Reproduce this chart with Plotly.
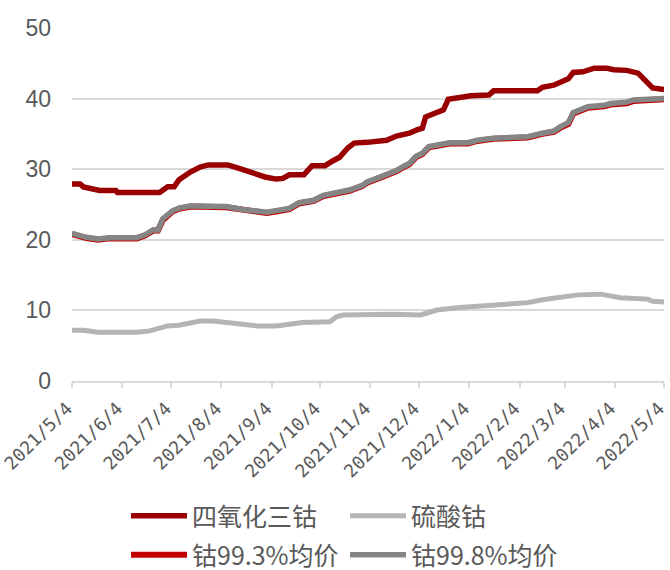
import plotly.graph_objects as go

# ---- data ----
co3o4_dates = ["2021-05-04","2021-05-09","2021-05-11","2021-05-17","2021-05-21","2021-05-31","2021-06-01",
               "2021-06-27","2021-07-02","2021-07-06","2021-07-09","2021-07-16","2021-07-22","2021-07-27",
               "2021-08-08","2021-08-14","2021-08-19","2021-08-25","2021-08-31","2021-09-07","2021-09-11",
               "2021-09-15","2021-09-24","2021-09-29","2021-10-07","2021-10-12","2021-10-16","2021-10-21",
               "2021-10-25","2021-11-02","2021-11-10","2021-11-14","2021-11-20","2021-11-28","2021-12-03",
               "2021-12-06","2021-12-08","2021-12-12","2021-12-16","2021-12-19","2021-12-22","2021-12-29",
               "2022-01-05","2022-01-16","2022-01-19","2022-02-15","2022-02-18","2022-02-25","2022-03-02",
               "2022-03-06","2022-03-09","2022-03-15","2022-03-22","2022-03-30","2022-04-03","2022-04-11",
               "2022-04-18","2022-04-21","2022-04-24","2022-04-27","2022-05-04"]
co3o4_vals = [27.9,27.9,27.5,27.2,27.0,27.0,26.7,
              26.7,27.5,27.5,28.5,29.6,30.3,30.6,
              30.6,30.2,29.8,29.2,28.9,28.6,28.7,
              29.2,29.2,30.5,30.5,31.2,31.7,33.0,
              33.7,33.8,34.0,34.1,34.7,35.1,35.6,
              35.8,37.4,37.7,38.2,38.4,39.9,40.2,
              40.4,40.5,41.1,41.1,41.6,41.9,42.5,
              42.8,43.7,43.8,44.3,44.3,44.1,44.0,
              43.6,42.9,42.3,41.5,41.3]

cobalt998_dates = ["2021-05-04","2021-05-09","2021-05-13","2021-05-20","2021-05-25","2021-05-27","2021-06-13",
                   "2021-06-18","2021-06-23","2021-06-26","2021-06-29","2021-07-02","2021-07-05","2021-07-09",
                   "2021-07-16","2021-08-07","2021-08-17","2021-09-01","2021-09-07","2021-09-15","2021-09-21",
                   "2021-09-30","2021-10-06","2021-10-14","2021-10-22","2021-10-30","2021-11-02","2021-11-10",
                   "2021-11-16","2021-11-20","2021-11-24","2021-11-28","2021-12-02","2021-12-06","2021-12-10",
                   "2021-12-17","2021-12-23","2022-01-03","2022-01-09","2022-01-19","2022-02-09","2022-02-18",
                   "2022-02-25","2022-03-01","2022-03-06","2022-03-09","2022-03-14","2022-03-18","2022-03-28",
                   "2022-04-01","2022-04-11","2022-04-15","2022-05-04"]
cobalt998_vals = [20.9,20.5,20.35,20.1,20.2,20.3,20.3,
                  20.7,21.4,21.4,23.0,23.5,24.1,24.5,
                  24.8,24.7,24.3,23.9,24.1,24.45,25.25,
                  25.6,26.3,26.7,27.05,27.7,28.2,28.9,
                  29.4,29.8,30.35,30.8,31.8,32.25,33.2,
                  33.6,33.75,33.75,34.1,34.4,34.6,35.1,
                  35.4,36.0,36.6,38.0,38.5,38.85,39.05,
                  39.3,39.5,39.8,40.0]
cobalt993_vals = [20.8,20.4,20.25,20.0,20.1,20.2,20.2,
                  20.6,21.3,21.3,22.8,23.4,24.0,24.4,
                  24.7,24.6,24.2,23.8,24.0,24.35,25.15,
                  25.5,26.2,26.6,26.95,27.6,28.1,28.8,
                  29.3,29.7,30.25,30.7,31.7,32.15,33.1,
                  33.5,33.65,33.65,34.0,34.3,34.5,35.0,
                  35.3,35.85,36.4,37.85,38.35,38.7,38.9,
                  39.15,39.35,39.65,39.9]

sulfate_dates = ["2021-05-04","2021-05-11","2021-05-20","2021-06-13","2021-06-21","2021-06-27","2021-07-02",
                 "2021-07-09","2021-07-16","2021-07-22","2021-07-30","2021-08-09","2021-08-17","2021-08-26",
                 "2021-09-07","2021-09-15","2021-09-23","2021-10-10","2021-10-14","2021-10-18","2021-11-10",
                 "2021-11-18","2021-12-05","2021-12-09","2021-12-15","2021-12-29","2022-01-19","2022-01-29",
                 "2022-02-09","2022-02-18","2022-03-01","2022-03-12","2022-03-26","2022-03-30","2022-04-07",
                 "2022-04-24","2022-04-27","2022-05-04"]
sulfate_vals = [7.2,7.2,6.9,6.9,7.1,7.45,7.8,
                7.9,8.3,8.5,8.5,8.25,8.1,7.8,
                7.8,8.1,8.3,8.4,9.1,9.35,9.45,
                9.45,9.35,9.7,10.05,10.4,10.7,10.9,
                11.1,11.5,11.9,12.2,12.3,12.1,11.8,
                11.6,11.3,11.2]

tick_dates = ["2021-05-04","2021-06-04","2021-07-04","2021-08-04","2021-09-04","2021-10-04","2021-11-04",
              "2021-12-04","2022-01-04","2022-02-04","2022-03-04","2022-04-04","2022-05-04"]
tick_labels = ["2021/5/4","2021/6/4","2021/7/4","2021/8/4","2021/9/4","2021/10/4","2021/11/4",
               "2021/12/4","2022/1/4","2022/2/4","2022/3/4","2022/4/4","2022/5/4"]
y_ticks = [0, 10, 20, 30, 40, 50]

names = ["四氧化三钴", "硫酸钴", "钴99.3%均价", "钴99.8%均价"]
colors = ["#990000", "#b4b4b4", "#c00000", "#858585"]

fig = go.Figure()
fig.add_trace(go.Scatter(x=sulfate_dates, y=sulfate_vals, name=names[1], mode="lines",
                         line=dict(color=colors[1], width=5), legend="legend", legendrank=2))
fig.add_trace(go.Scatter(x=co3o4_dates, y=co3o4_vals, name=names[0], mode="lines",
                         line=dict(color=colors[0], width=5.5), legend="legend", legendrank=1))
fig.add_trace(go.Scatter(x=cobalt998_dates, y=cobalt993_vals, name=names[2], mode="lines",
                         line=dict(color=colors[2], width=6), legend="legend2", legendrank=1))
fig.add_trace(go.Scatter(x=cobalt998_dates, y=cobalt998_vals, name=names[3], mode="lines",
                         line=dict(color=colors[3], width=5.5), legend="legend2", legendrank=2))

legend_common = dict(orientation="h", xref="container", yref="container", x=126/670,
                     xanchor="left", yanchor="middle", entrywidth=148, entrywidthmode="pixels",
                     itemwidth=56, font=dict(family="Noto Sans CJK SC", size=25, color="#595959"),
                     bgcolor="rgba(0,0,0,0)", traceorder="normal")

fig.update_layout(
    width=670, height=570,
    margin=dict(l=72, r=6, t=28, b=189),
    paper_bgcolor="white", plot_bgcolor="white",
    legend=dict(**legend_common, y=1 - 516/570),
    legend2=dict(**legend_common, y=1 - 555/570),
    xaxis=dict(type="date", range=["2021-05-04", "2022-05-04"], tickmode="array",
               tickvals=tick_dates, ticktext=tick_labels, tickangle=-45, automargin=False,
               ticklabeloverflow="allow", ticklabelshift=-5, ticklabelstandoff=3,
               tickfont=dict(family="DejaVu Sans Mono", size=18, color="#595959"),
               showgrid=False, showline=True, linecolor="#d9d9d9", linewidth=1.5,
               ticks="outside", ticklen=5, tickcolor="#d9d9d9", tickwidth=1.5, zeroline=False),
    yaxis=dict(range=[0, 50], tickvals=y_ticks, showgrid=True, gridcolor="#d9d9d9", gridwidth=1.5,
               zeroline=False, showline=False, ticks="", automargin=False,
               tickfont=dict(family="Liberation Sans", size=23, color="#595959"),
               ticklabelstandoff=20),
)

fig.write_html("out.html", config={"displayModeBar": False},
               post_script="document.body.style.margin='0';document.body.style.overflow='hidden';")
